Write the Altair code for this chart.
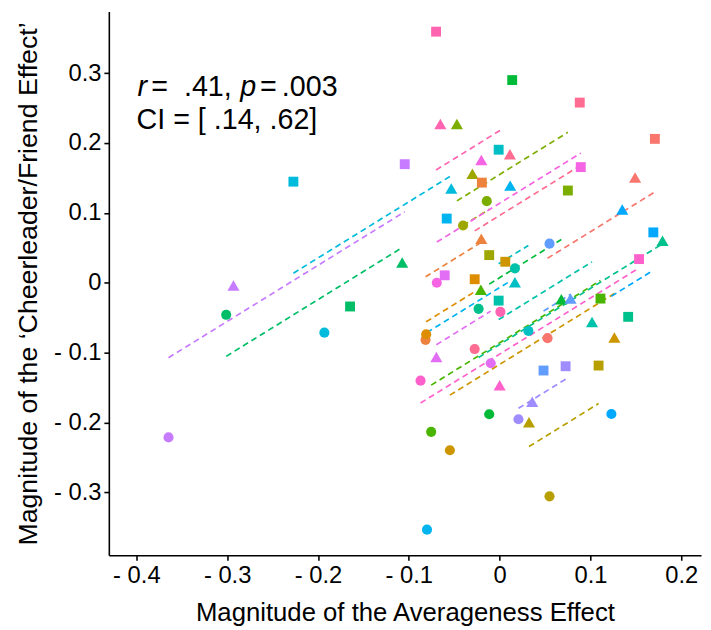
import numpy as np
import pandas as pd
import altair as alt

# ---------------- data ----------------
hues = [15, 30, 45, 60, 75, 90, 105, 120, 135, 150, 165, 180,
        195, 210, 225, 240, 255, 270, 285, 300, 315, 330, 345, 360]
participants = [f"P{i:02d}" for i in range(1, 25)]

pt_participant = (
    ["P01"] * 3 + ["P02"] * 3 + ["P03"] * 2 + ["P04"] * 3 + ["P05"] * 3 + ["P06"] * 3 +
    ["P07"] * 3 + ["P08"] * 3 + ["P09"] * 3 + ["P10"] * 3 + ["P11"] * 3 + ["P12"] * 3 +
    ["P13"] * 3 + ["P14"] * 3 + ["P15"] * 3 + ["P16"] * 3 + ["P17"] * 3 + ["P18"] * 3 +
    ["P19"] * 3 + ["P20"] * 3 + ["P21"] * 3 + ["P22"] * 3 + ["P23"] * 3 + ["P24"] * 3
)
pt_measure = [
    "square", "triangle", "circle",
    "circle", "triangle", "square",
    "circle", "square",
    "circle", "square", "triangle",
    "triangle", "circle", "square",
    "triangle", "circle", "square",
    "triangle", "square", "circle",
    "circle", "triangle", "square",
    "square", "circle", "triangle",
    "circle", "square", "triangle",
    "circle", "square", "triangle",
    "square", "circle", "triangle",
    "square", "triangle", "circle",
    "square", "circle", "triangle",
    "circle", "square", "triangle",
    "circle", "triangle", "square",
    "circle", "triangle", "square",
    "circle", "triangle", "square",
    "circle", "triangle", "square",
    "triangle", "circle", "square",
    "circle", "triangle", "square",
    "circle", "triangle", "square",
    "square", "triangle", "circle",
    "square", "triangle", "circle",
]
averageness = [
    0.1709, 0.1491, 0.0527,
    -0.0816, -0.0202, -0.0196,
    -0.0809, -0.0275,
    -0.0548, 0.0062, 0.1263,
    0.0323, 0.0549, 0.1089,
    -0.0300, -0.0403, -0.0115,
    -0.0471, 0.0751, -0.0142,
    -0.0754, -0.0207, 0.1110,
    0.0138, -0.0115, 0.0679,
    -0.3011, -0.1647, -0.1073,
    -0.0232, 0.1415, 0.1793,
    -0.0011, 0.0168, 0.1017,
    -0.0011, 0.0168, 0.0316,
    -0.2271, -0.1930, -0.0533,
    -0.0800, -0.0583, 0.0116,
    0.1230, 0.1350, 0.1692,
    0.0549, 0.0780, 0.0483,
    0.0207, 0.0359, 0.0726,
    -0.3646, -0.2931, -0.1045,
    -0.0697, -0.0098, -0.0605,
    -0.0692, -0.0202, 0.0893,
    -0.0871, 0.0000, 0.1535,
    -0.0700, -0.0653, 0.0008,
    0.0882, 0.0113, -0.0275,
]
cheerleader = [
    0.2059, 0.1508, -0.0792,
    -0.0816, 0.0631, 0.1433,
    -0.0736, 0.0051,
    -0.2396, 0.0301, -0.0784,
    -0.1994, -0.3055, -0.1184,
    0.1560, 0.0820, 0.0396,
    0.2272, 0.1320, 0.1168,
    -0.2132, -0.0099, -0.0226,
    0.2900, -0.1881, -0.0236,
    -0.0458, -0.0339, 0.0291,
    -0.0373, -0.0487, 0.0603,
    -0.0255, 0.0207, -0.0562,
    0.1904, 0.0008, -0.0689,
    0.1447, -0.0713, 0.1348,
    -0.3532, 0.0919, 0.1390,
    -0.1877, 0.1047, 0.0721,
    0.0560, -0.0226, -0.1255,
    -0.1952, -0.1703, -0.1194,
    -0.2212, -0.0038, 0.1697,
    -0.1061, -0.1151, 0.0107,
    0.0000, 0.1758, 0.1655,
    -0.1400, -0.1467, 0.0339,
    0.3593, 0.2272, -0.0416,
    0.2578, 0.1839, -0.0948,
]
x_ticks = [-0.4, -0.3, -0.2, -0.1, 0.0, 0.1, 0.2]
y_ticks = [-0.3, -0.2, -0.1, 0.0, 0.1, 0.2, 0.3]
stat_line2 = "CI = [ .14, .62]"


# ---------------- ggplot-like hue palette (hcl, c=100, l=65) ----------------
def hcl_hex(h, c=100.0, l=65.0):
    hr = np.deg2rad(h)
    U, V = c * np.cos(hr), c * np.sin(hr)
    wY, wu, wv = 100.0, 0.1978398, 0.4683363
    Y = wY * ((l + 16) / 116) ** 3
    u = U / (13 * l) + wu
    v = V / (13 * l) + wv
    X = 9.0 * Y * u / (4 * v)
    Z = -X / 3 - 5 * Y + 3 * Y / v
    rgb = np.array([
        3.240479 * X - 1.537150 * Y - 0.498535 * Z,
        -0.969256 * X + 1.875992 * Y + 0.041556 * Z,
        0.055648 * X - 0.204043 * Y + 1.057311 * Z,
    ]) / wY
    rgb = np.where(rgb <= 0.0031308, 12.92 * rgb, 1.055 * np.sign(rgb) * np.abs(rgb) ** (1 / 2.4) - 0.055)
    rgb = np.clip(np.round(rgb * 255), 0, 255).astype(int)
    return "#%02X%02X%02X" % tuple(rgb)


palette = [hcl_hex(h) for h in hues]

pts = pd.DataFrame({
    "participant": pt_participant,
    "measure": pt_measure,
    "x": averageness,
    "y": cheerleader,
})

# repeated-measures correlation fit: common slope, participant intercepts
dx = pts["x"] - pts.groupby("participant")["x"].transform("mean")
dy = pts["y"] - pts.groupby("participant")["y"].transform("mean")
slope = float((dx * dy).sum() / (dx * dx).sum())
rows = []
for p, g in pts.groupby("participant"):
    mx, my = g["x"].mean(), g["y"].mean()
    for xv in (g["x"].min(), g["x"].max()):
        rows.append({"participant": p, "x": xv, "y": my + slope * (xv - mx)})
fit = pd.DataFrame(rows)

FONT = "Liberation Sans"
x_dom = [-0.4303, 0.2217]
y_dom = [-0.3899, 0.388]

label_expr = ("datum.value < -0.0001 ? '- ' + format(-datum.value, '.1f') : "
              "(abs(datum.value) < 0.0001 ? '0' : format(datum.value, '.1f'))")

color = alt.Color("participant:N", scale=alt.Scale(domain=participants, range=palette), legend=None)
xenc = alt.X("x:Q", scale=alt.Scale(domain=x_dom, nice=False, zero=False),
             axis=alt.Axis(values=x_ticks, labelExpr=label_expr,
                           title="Magnitude of the Averageness Effect", titlePadding=13,
                           titleFontSize=26))
yenc = alt.Y("y:Q", scale=alt.Scale(domain=y_dom, nice=False, zero=False),
             axis=alt.Axis(values=y_ticks, labelExpr=label_expr,
                           title="Magnitude of the \u2018Cheerleader/Friend Effect\u2019", titlePadding=11,
                           titleFontSize=27))

lines = alt.Chart(fit).mark_line(strokeDash=[6, 4], strokeWidth=1.7, clip=True).encode(
    x=xenc, y=yenc, color=color, detail="participant:N")


def pts_layer(measure, shape, size):
    return alt.Chart(pts).transform_filter(
        alt.datum.measure == measure
    ).mark_point(filled=True, opacity=1, strokeWidth=0, shape=shape, size=size).encode(
        x="x:Q", y="y:Q", color=color)


circles = pts_layer("circle", "circle", 105)
triangles = pts_layer("triangle", "triangle-up", 150)
squares = pts_layer("square", "square", 100)

one_row = pd.DataFrame({"k": [0]})


def txt(s, px, py, italic=False, size=29):
    return alt.Chart(one_row).mark_text(
        text=s, align="left", baseline="alphabetic", font=FONT, fontSize=size,
        fontStyle="italic" if italic else "normal", color="black"
    ).encode(x=alt.value(px), y=alt.value(py))


ann = (txt("r", 29, 85, True) + txt("=", 43, 85) + txt(".41,", 76, 85) +
       txt("p", 133, 85, True) + txt("=", 153, 85) + txt(".003", 175, 85) +
       txt(stat_line2, 28, 119))

chart = alt.layer(lines, circles, triangles, squares, ann).properties(
    width=599, height=550,
    autosize=alt.AutoSizeParams(type="none"),
    padding={"left": 102, "top": 0, "right": 2, "bottom": 80},
    background="white",
).configure_view(stroke=None).configure_axis(
    grid=False, domainColor="black", domainWidth=1.6, tickColor="black", tickWidth=1.6,
    tickSize=5, labelFont=FONT, labelFontSize=24, labelColor="black", labelPadding=3,
    titleFont=FONT, titleFontWeight="normal", titleColor="black",
)

chart.save("out.html", embed_options={"renderer": "svg", "actions": False})
